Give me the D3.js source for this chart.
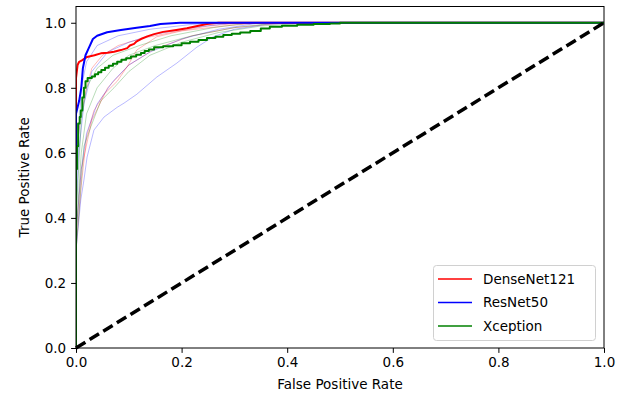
<!DOCTYPE html>
<html>
<head>
<meta charset="utf-8">
<script src="https://cdn.jsdelivr.net/npm/d3@7"></script>
<style>
  html, body { margin: 0; padding: 0; background: #fff; }
  svg { display: block; font-family: "DejaVu Sans", sans-serif; }
</style>
</head>
<body>
<svg id="chart" width="629" height="401"></svg>
<script>
// ROC curves: [false positive rate, true positive rate]
const models = ["DenseNet121", "ResNet50", "Xception"];
const modelColors = ["#ff0000", "#0000ff", "#008000"];

const denseNetRoc = [[0,0],[0,0.83],[0.003,0.87],[0.006,0.88],[0.012,0.885],[0.021,0.895],[0.035,0.9],[0.047,0.906],[0.06,0.908],[0.072,0.911],[0.085,0.916],[0.097,0.922],[0.102,0.93],[0.11,0.935],[0.115,0.943],[0.123,0.95],[0.135,0.958],[0.148,0.965],[0.165,0.972],[0.19,0.978],[0.21,0.983],[0.23,0.99],[0.248,0.996],[0.27,1],[1,1]];
const resNetRoc = [[0,0],[0,0.72],[0.006,0.76],[0.01,0.8],[0.013,0.86],[0.018,0.9],[0.025,0.925],[0.032,0.95],[0.04,0.96],[0.059,0.971],[0.085,0.978],[0.115,0.985],[0.14,0.99],[0.16,0.996],[0.197,1],[1,1]];
const xceptionRoc = [[0,0],[0,0.55],[0.002,0.62],[0.004,0.69],[0.007,0.71],[0.009,0.73],[0.012,0.77],[0.015,0.80],[0.018,0.82],[0.022,0.83],[0.03,0.835],[0.036,0.842],[0.042,0.848],[0.048,0.855],[0.055,0.862],[0.062,0.868],[0.07,0.874],[0.078,0.88],[0.086,0.886],[0.095,0.891],[0.104,0.896],[0.114,0.902],[0.123,0.907],[0.13,0.913],[0.138,0.918],[0.148,0.925],[0.165,0.928],[0.184,0.931],[0.2,0.937],[0.216,0.942],[0.232,0.947],[0.248,0.953],[0.264,0.957],[0.279,0.962],[0.295,0.966],[0.311,0.970],[0.33,0.975],[0.35,0.982],[0.367,0.988],[0.39,0.991],[0.419,0.994],[0.45,0.996],[0.481,0.998],[0.5,1],[1,1]];

// per-fold curves (drawn faint)
const denseNetFolds = [
  [[0,0],[0,0.3],[0,0.6],[0.01,0.72],[0.02,0.8],[0.03,0.86],[0.05,0.9],[0.08,0.93],[0.12,0.95],[0.18,0.97],[0.25,0.99],[0.32,1],[1,1]],
  [[0,0],[0,0.3],[0.01,0.5],[0.02,0.65],[0.034,0.73],[0.053,0.78],[0.078,0.82],[0.097,0.865],[0.115,0.916],[0.153,0.957],[0.2,0.975],[0.28,0.99],[0.35,1],[1,1]],
  [[0,0],[0,0.35],[0.01,0.55],[0.03,0.7],[0.06,0.8],[0.1,0.87],[0.15,0.92],[0.22,0.96],[0.3,0.985],[0.4,1],[1,1]]
];
const resNetFolds = [
  [[0,0],[0,0.3],[0.009,0.455],[0.015,0.516],[0.021,0.587],[0.034,0.67],[0.053,0.71],[0.078,0.74],[0.091,0.753],[0.115,0.78],[0.153,0.833],[0.191,0.876],[0.229,0.925],[0.26,0.957],[0.3,0.98],[0.36,0.995],[0.42,1],[1,1]],
  [[0,0],[0,0.35],[0.01,0.55],[0.02,0.66],[0.04,0.75],[0.07,0.82],[0.1,0.87],[0.14,0.91],[0.2,0.95],[0.27,0.98],[0.35,1],[1,1]],
  [[0,0],[0,0.4],[0.005,0.6],[0.015,0.75],[0.03,0.85],[0.06,0.91],[0.1,0.94],[0.15,0.965],[0.22,0.985],[0.3,1],[1,1]],
  [[0,0],[0,0.5],[0.01,0.8],[0.02,0.88],[0.04,0.93],[0.08,0.96],[0.14,0.98],[0.22,0.995],[0.28,1],[1,1]]
];
const xceptionFolds = [
  [[0,0],[0,0.3],[0.015,0.62],[0.028,0.68],[0.047,0.76],[0.072,0.8],[0.1,0.85],[0.14,0.9],[0.2,0.94],[0.27,0.97],[0.35,0.99],[0.45,1],[1,1]],
  [[0,0],[0,0.35],[0.01,0.6],[0.02,0.72],[0.04,0.8],[0.07,0.86],[0.1,0.9],[0.15,0.93],[0.22,0.96],[0.3,0.985],[0.38,1],[1,1]],
  [[0,0],[0,0.4],[0.01,0.7],[0.02,0.8],[0.04,0.86],[0.07,0.9],[0.12,0.93],[0.18,0.96],[0.26,0.985],[0.33,1],[1,1]]
];

const xTicks = [0, 0.2, 0.4, 0.6, 0.8, 1.0];
const yTicks = [0, 0.2, 0.4, 0.6, 0.8, 1.0];
const chanceLine = [[0, 0], [1, 1]];

const mainCurves = [denseNetRoc, resNetRoc, xceptionRoc];
const foldCurves = [denseNetFolds, resNetFolds, xceptionFolds];

const svg = d3.select("#chart");
const plotLeft = 76, plotRight = 604, plotTop = 6.5, plotBottom = 348;

const x = d3.scaleLinear().domain([0, 1]).range([plotLeft, plotRight]);
const y = d3.scaleLinear().domain([0, 1.05]).range([plotBottom, plotTop]);

svg.append("defs").append("clipPath").attr("id", "plotClip")
  .append("rect").attr("x", plotLeft).attr("y", plotTop)
  .attr("width", plotRight - plotLeft).attr("height", plotBottom - plotTop);

const plot = svg.append("g").attr("clip-path", "url(#plotClip)");

const linear = d3.line().x(d => x(d[0])).y(d => y(d[1]));
const stepped = d3.line().x(d => x(d[0])).y(d => y(d[1])).curve(d3.curveStepAfter);

// faint fold curves
foldCurves.forEach((folds, i) => {
  folds.forEach(f => {
    plot.append("path").attr("d", linear(f))
      .attr("fill", "none").attr("stroke", modelColors[i])
      .attr("stroke-opacity", 0.28).attr("stroke-width", 1);
  });
});

// mean curves (Xception drawn as a staircase)
mainCurves.forEach((c, i) => {
  plot.append("path").attr("d", (i === 2 ? stepped : linear)(c))
    .attr("fill", "none").attr("stroke", modelColors[i])
    .attr("stroke-width", 2).attr("stroke-linejoin", "round");
});

// chance diagonal
svg.append("path").attr("d", linear(chanceLine))
  .attr("fill", "none").attr("stroke", "#000")
  .attr("stroke-width", 3.5).attr("stroke-dasharray", "11,5");

// axes
const xAxis = d3.axisBottom(x).tickValues(xTicks).tickFormat(d3.format(".1f"))
  .tickSizeInner(4.9).tickSizeOuter(0).tickPadding(4.9);
const yAxis = d3.axisLeft(y).tickValues(yTicks).tickFormat(d3.format(".1f"))
  .tickSizeInner(4.9).tickSizeOuter(0).tickPadding(4.9);

const gx = svg.append("g").attr("transform", `translate(0,${plotBottom})`).call(xAxis);
const gy = svg.append("g").attr("transform", `translate(${plotLeft},0)`).call(yAxis);
[gx, gy].forEach(g => {
  g.select(".domain").remove();
  g.selectAll("line").attr("stroke", "#000").attr("stroke-width", 1);
  g.selectAll("text").attr("fill", "#000").style("font-size", "13.5px")
    .style("font-family", "DejaVu Sans, sans-serif");
});

// frame
svg.append("rect").attr("x", plotLeft).attr("y", plotTop)
  .attr("width", plotRight - plotLeft).attr("height", plotBottom - plotTop)
  .attr("fill", "none").attr("stroke", "#000").attr("stroke-width", 1);

// axis titles
svg.append("text").attr("x", (plotLeft + plotRight) / 2).attr("y", 389)
  .attr("text-anchor", "middle").style("font-size", "13.5px").attr("fill", "#000")
  .text("False Positive Rate");
svg.append("text").attr("transform", `translate(29,${(plotTop + plotBottom) / 2}) rotate(-90)`)
  .attr("text-anchor", "middle").style("font-size", "13.5px").attr("fill", "#000")
  .text("True Positive Rate");

// legend
const lg = svg.append("g");
lg.append("rect").attr("x", 433.5).attr("y", 265.5).attr("width", 162).attr("height", 75)
  .attr("rx", 3).attr("fill", "#fff").attr("fill-opacity", 0.8)
  .attr("stroke", "#d0d0d0").attr("stroke-width", 1);
models.forEach((m, i) => {
  const ly = 279 + i * 23.5;
  lg.append("line").attr("x1", 438).attr("x2", 472).attr("y1", ly).attr("y2", ly)
    .attr("stroke", modelColors[i]).attr("stroke-width", 1.5);
  lg.append("text").attr("x", 483).attr("y", ly).attr("dy", "0.36em")
    .style("font-size", "13.5px").attr("fill", "#000").text(m);
});
</script>
</body>
</html>
